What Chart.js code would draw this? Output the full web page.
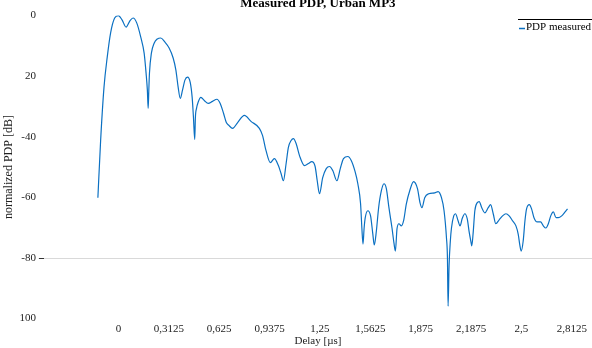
<!DOCTYPE html>
<html>
<head>
<meta charset="utf-8">
<script src="https://cdn.jsdelivr.net/npm/chart.js@4"></script>
<style>
  html, body { margin: 0; padding: 0; background: #fff; }
  #wrap { width: 592px; height: 348px; position: relative; }
</style>
</head>
<body>
<div id="wrap"><canvas id="pdp"></canvas></div>
<script>
// Delay axis in µs, PDP in dB, both.
const delayUs = [
  -0.128, -0.111, -0.090, -0.070, -0.049, -0.024, -0.001, 0.022, 0.047, 0.070,
  0.090, 0.113, 0.138, 0.159, 0.171, 0.179, 0.184, 0.188, 0.192, 0.204,
  0.221, 0.241, 0.262, 0.287, 0.314, 0.339, 0.356, 0.370, 0.383, 0.397,
  0.412, 0.428, 0.445, 0.457, 0.465, 0.473, 0.477, 0.484, 0.494, 0.511,
  0.532, 0.557, 0.583, 0.611, 0.631, 0.652, 0.669, 0.684, 0.708, 0.739,
  0.781, 0.822, 0.874, 0.894, 0.915, 0.942, 0.967, 0.992, 1.009, 1.023,
  1.040, 1.054, 1.071, 1.085, 1.102, 1.123, 1.154, 1.179, 1.199, 1.220,
  1.233, 1.247, 1.267, 1.289, 1.309, 1.330, 1.355, 1.376, 1.396, 1.423,
  1.444, 1.468, 1.485, 1.502, 1.510, 1.517, 1.524, 1.531, 1.547, 1.564,
  1.578, 1.587, 1.600, 1.614, 1.631, 1.647, 1.662, 1.678, 1.697, 1.709,
  1.718, 1.728, 1.740, 1.755, 1.769, 1.786, 1.807, 1.831, 1.855, 1.871,
  1.883, 1.900, 1.925, 1.962, 1.983, 2.004, 2.020, 2.035, 2.041, 2.045,
  2.051, 2.059, 2.066, 2.080, 2.091, 2.107, 2.119, 2.133, 2.149, 2.164,
  2.175, 2.186, 2.192, 2.200, 2.211, 2.225, 2.238, 2.254, 2.273, 2.294,
  2.309, 2.325, 2.341, 2.362, 2.383, 2.404, 2.424, 2.445, 2.466, 2.480,
  2.491, 2.499, 2.511, 2.522, 2.532, 2.549, 2.563, 2.578, 2.598, 2.619,
  2.636, 2.652, 2.667, 2.682, 2.698, 2.715, 2.729, 2.750, 2.771, 2.786
];
const pdpDb = [
  -60.1, -41.2, -23.6, -13.7, -5.7, -0.8, 0.0, -1.4, -3.8, -1.8,
  -0.8, -2.4, -7.1, -12.4, -19.0, -24.6, -30.6, -24.6, -19.0, -12.4,
  -9.1, -7.7, -7.4, -8.7, -10.7, -14.0, -18.0, -23.6, -27.3, -24.6,
  -21.3, -20.3, -22.0, -27.0, -33.6, -40.9, -33.6, -30.6, -28.6, -27.0,
  -28.0, -29.0, -28.3, -27.6, -29.0, -32.3, -35.3, -36.2, -37.2, -35.3,
  -32.9, -34.9, -37.2, -39.6, -44.5, -48.5, -47.2, -49.5, -52.2, -54.5,
  -48.8, -43.5, -41.2, -40.6, -42.2, -46.2, -49.5, -48.8, -48.2, -49.8,
  -54.5, -58.8, -53.5, -50.5, -49.8, -51.2, -54.5, -50.5, -47.2, -46.5,
  -47.8, -51.5, -55.5, -62.1, -70.1, -75.4, -70.1, -66.7, -64.4, -66.1,
  -72.1, -75.7, -71.1, -63.4, -57.8, -55.5, -57.1, -63.4, -70.1, -75.0,
  -77.7, -70.4, -68.7, -69.4, -67.7, -62.1, -57.8, -54.8, -57.1, -61.8,
  -63.4, -60.1, -58.8, -58.5, -58.1, -60.1, -64.4, -73.4, -80.0, -95.9,
  -82.7, -74.4, -70.1, -66.1, -65.4, -67.7, -69.4, -66.9, -65.4, -67.1,
  -71.1, -74.4, -76.0, -72.1, -64.4, -61.8, -61.4, -63.4, -65.1, -63.4,
  -62.4, -65.4, -68.7, -67.4, -66.1, -65.4, -66.1, -67.7, -69.4, -72.1,
  -76.0, -77.7, -74.4, -67.7, -63.8, -62.4, -63.8, -66.7, -68.1, -68.1,
  -69.4, -70.1, -68.7, -66.1, -64.8, -66.7, -66.7, -66.1, -64.8, -63.8
];

const X_TICKS = [0, 0.3125, 0.625, 0.9375, 1.25, 1.5625, 1.875, 2.1875, 2.5, 2.8125];
const X_TICK_LABELS = ['0', '0,3125', '0,625', '0,9375', '1,25', '1,5625', '1,875', '2,1875', '2,5', '2,8125'];
// labels as printed on the original (two of them lost their minus sign)
const Y_TICKS = [-100, -80, -60, -40, -20, 0];
const Y_TICK_LABELS = ['100', '-80', '-60', '-40', '20', '0'];

const SERIF = "'Liberation Serif', 'DejaVu Serif', serif";
const LINE_BLUE = '#0b70c2';

// Chart.js can't put a horizontal legend in the top-right corner of the plot
// without eating layout space, so draw the single entry by hand. The source
// figure also has a dark rule sitting on top of the legend box.
const cornerLegend = {
  id: 'cornerLegend',
  afterDraw(chart) {
    const ds = chart.data.datasets[0];
    const area = chart.chartArea;
    const { ctx } = chart;
    const x0 = area.right - 73;
    const ruleY = Math.round(area.top + 3) + 0.5;
    const midY = area.top + 12;
    ctx.save();
    ctx.strokeStyle = '#000';
    ctx.lineWidth = 1;
    ctx.beginPath();
    ctx.moveTo(x0 - 1, ruleY);
    ctx.lineTo(chart.width, ruleY);
    ctx.stroke();

    ctx.strokeStyle = ds.borderColor;
    ctx.lineWidth = 1.5;
    ctx.beginPath();
    ctx.moveTo(x0, Math.round(midY) + 0.5);
    ctx.lineTo(x0 + 6, Math.round(midY) + 0.5);
    ctx.stroke();

    ctx.fillStyle = '#000';
    ctx.font = `11px ${SERIF}`;
    ctx.textBaseline = 'middle';
    ctx.fillText(ds.label, x0 + 7, midY);
    ctx.restore();
  },
};

new Chart(document.getElementById('pdp'), {
  type: 'line',
  data: {
    datasets: [
      {
        label: 'PDP measured',
        data: delayUs.map((x, i) => ({ x, y: pdpDb[i] })),
        borderColor: LINE_BLUE,
        backgroundColor: LINE_BLUE,
        borderWidth: 1.2,
        pointRadius: 0,
        cubicInterpolationMode: 'monotone',
        fill: false,
      },
    ],
  },
  plugins: [cornerLegend],
  options: {
    responsive: true,
    maintainAspectRatio: false,
    animation: false,
    layout: { padding: { left: 0, right: 0, top: 0, bottom: 0 } },
    plugins: {
      title: {
        display: true,
        text: 'Measured PDP, Urban MP3',
        fullSize: false,
        color: '#000',
        font: { family: SERIF, size: 13, weight: 'bold' },
        padding: { top: -4, bottom: 4 },
      },
      legend: { display: false },
      tooltip: { enabled: false },
    },
    scales: {
      x: {
        type: 'linear',
        min: -0.463,
        max: 2.938,
        afterBuildTicks: (scale) => {
          scale.ticks = X_TICKS.map((value) => ({ value }));
        },
        grid: { display: false, drawTicks: false },
        border: { display: false },
        ticks: {
          autoSkip: false,
          maxRotation: 0,
          padding: 4,
          color: '#222',
          font: { family: SERIF, size: 11 },
          callback: (value) => X_TICK_LABELS[X_TICKS.indexOf(value)],
        },
        title: {
          display: true,
          text: 'Delay [µs]',
          color: '#222',
          font: { family: SERIF, size: 11 },
          padding: { top: -5, bottom: 0 },
        },
      },
      y: {
        min: -100,
        max: 0,
        afterBuildTicks: (scale) => {
          scale.ticks = Y_TICKS.map((value) => ({ value }));
        },
        border: { display: false },
        grid: {
          drawTicks: true,
          tickLength: 5,
          color: (c) => (c.tick && c.tick.value === -80 ? '#d9d9d9' : 'rgba(0,0,0,0)'),
          tickColor: (c) => (c.tick && c.tick.value === -80 ? '#333' : 'rgba(0,0,0,0)'),
        },
        ticks: {
          padding: 3,
          color: '#222',
          font: { family: SERIF, size: 11 },
          callback: (value) => Y_TICK_LABELS[Y_TICKS.indexOf(value)],
        },
        title: {
          display: true,
          text: 'normalized PDP [dB]',
          color: '#222',
          font: { family: SERIF, size: 12 },
          padding: { top: 2, bottom: 0 },
        },
      },
    },
  },
});
</script>
</body>
</html>
